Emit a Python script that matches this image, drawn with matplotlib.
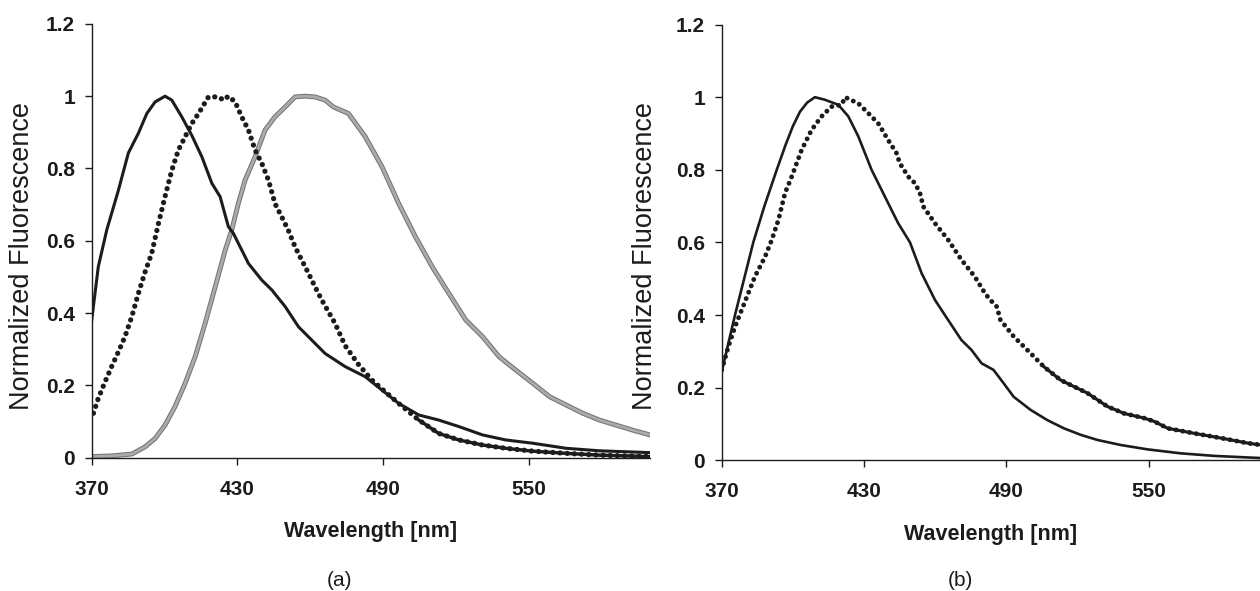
import matplotlib
matplotlib.use("Agg")
import matplotlib.pyplot as plt

plt.rcParams['font.family'] = ['Liberation Sans', 'DejaVu Sans']

# ---- data ----
# panel (a)
a_solid_x = [370, 372.7, 376.2, 381, 385.1, 389.2, 392.7, 396.1, 400.2, 403, 407.1, 411.2,
             415.4, 419.5, 422.9, 426.3, 428.4, 434.6, 440.1, 444.2, 449.7, 455.2, 460.7,
             466.2, 470.3, 474.4, 482.7, 489.6, 496.5, 504.8, 513, 521.3, 531, 540.6,
             551.7, 565.4, 579.2, 600]
a_solid_y = [0.381, 0.528, 0.63, 0.74, 0.843, 0.897, 0.952, 0.984, 1.0, 0.989, 0.943, 0.892,
             0.832, 0.759, 0.722, 0.639, 0.62, 0.537, 0.491, 0.464, 0.418, 0.362, 0.325,
             0.288, 0.27, 0.252, 0.224, 0.187, 0.150, 0.118, 0.104, 0.086, 0.063, 0.049,
             0.040, 0.026, 0.019, 0.014]

a_dot_x = [370.7, 372.7, 375.5, 378.2, 381, 383.7, 386.5, 389.2, 392, 394.7, 397.5, 400.2,
           403, 405.7, 408.5, 411.2, 414, 418.1, 422.2, 424.3, 426.3, 429.1, 431.8, 434.6,
           437.3, 440.1, 442.8, 445.5, 448.3, 451, 453.8, 456.5, 459.3, 462, 464.8, 470.3,
           474.4, 479.9, 485.4, 489.6, 496.5, 504.8, 513, 521.3, 531, 540.6, 551.7, 565.4,
           579.2, 600]
a_dot_y = [0.123, 0.164, 0.21, 0.252, 0.293, 0.335, 0.39, 0.454, 0.514, 0.565, 0.648, 0.722,
           0.795, 0.851, 0.888, 0.924, 0.952, 0.998, 0.998, 0.989, 1.0, 0.984, 0.943, 0.906,
           0.851, 0.814, 0.768, 0.703, 0.666, 0.629, 0.583, 0.547, 0.51, 0.473, 0.436, 0.371,
           0.31, 0.258, 0.215, 0.19, 0.150, 0.104, 0.067, 0.049, 0.035, 0.026, 0.018, 0.012,
           0.007, 0.003]

a_gray_x = [370, 378.2, 386.5, 392, 396.1, 400.2, 404.3, 408.5, 412.6, 416.7, 420.9, 425,
            427.7, 430.4, 433.2, 437.3, 441.4, 445.5, 449.7, 453.8, 457.9, 462, 466.2, 469.6,
            475.8, 482.7, 489.6, 496.5, 503.4, 510.3, 517.2, 524.1, 531, 537.9, 544.8, 551.7,
            558.6, 565.4, 572.3, 579.2, 586.1, 593, 600]
a_gray_y = [0.003, 0.005, 0.01, 0.03, 0.053, 0.09, 0.141, 0.206, 0.279, 0.371, 0.473, 0.574,
            0.63, 0.703, 0.768, 0.832, 0.906, 0.943, 0.97, 0.998, 1.0, 0.998, 0.989, 0.97,
            0.952, 0.888, 0.805, 0.703, 0.611, 0.528, 0.454, 0.381, 0.335, 0.279, 0.242, 0.206,
            0.169, 0.146, 0.123, 0.104, 0.09, 0.076, 0.063]

# panel (b)
b_solid_x = [370, 375.6, 383.3, 388, 393.2, 397, 400, 403, 406, 409.3, 413.5, 419.2, 423.4,
             427.6, 433.2, 440.2, 444.4, 449.4, 454.3, 459.9, 464.1, 471.1, 475.3, 479.6,
             484.6, 488.9, 493.1, 500.2, 507.2, 514.3, 521.4, 528.4, 538.3, 549.6, 563.7,
             577.9, 597.6]
b_solid_y = [0.244, 0.4, 0.6, 0.7, 0.8, 0.87, 0.92, 0.96, 0.985, 1.0, 0.993, 0.979, 0.947,
             0.892, 0.8, 0.708, 0.653, 0.6, 0.515, 0.442, 0.4, 0.331, 0.304, 0.267,
             0.249, 0.212, 0.175, 0.139, 0.111, 0.088, 0.07, 0.056, 0.042, 0.03, 0.019,
             0.012, 0.006]

b_dot_x = [370, 372.8, 375.6, 378.4, 381.2, 384, 388.3, 391.1, 393.9, 396.7, 399.5, 403.7,
           407.9, 412.1, 416.3, 420.6, 422, 427.6, 431.8, 436, 440.2, 443.7, 445.1, 448.7,
           451.5, 453.6, 455, 459.9, 465.5, 471.1, 476.7, 481, 483.2, 486, 487.5, 493.1,
           500.2, 505.8, 512.9, 515.7, 524.2, 532.7, 539.7, 548.2, 552.4, 558.1, 569.4,
           580.7, 592, 597.6]
b_dot_y = [0.249, 0.313, 0.368, 0.414, 0.46, 0.506, 0.561, 0.607, 0.662, 0.736, 0.781, 0.855,
           0.91, 0.947, 0.974, 0.979, 1.0, 0.983, 0.956, 0.928, 0.882, 0.846, 0.818, 0.781,
           0.763, 0.736, 0.699, 0.653, 0.607, 0.552, 0.506, 0.46, 0.442, 0.423, 0.387, 0.341,
           0.295, 0.258, 0.221, 0.212, 0.185, 0.148, 0.129, 0.116, 0.107, 0.088, 0.074,
           0.061, 0.047, 0.042]

x_ticks = [370, 430, 490, 550]
y_ticks = [0, 0.2, 0.4, 0.6, 0.8, 1.0, 1.2]
y_tick_labels = ['0', '0.2', '0.4', '0.6', '0.8', '1', '1.2']

DARK = '#1c1c1c'

fig = plt.figure(figsize=(12.6, 5.91), dpi=100)
ax_a = fig.add_axes([0.0728, 0.2256, 0.5158 - 0.0728, 0.9596 - 0.2256])
ax_b = fig.add_axes([0.5728, 0.2212, 1.0 - 0.5728, 0.9584 - 0.2212])


def dotted(ax, x, y, tail_from, lw, gap):
    ax.plot(x, y, color=DARK, lw=lw, linestyle=(0, (0.01, gap)),
            dash_capstyle='round', solid_capstyle='round')
    # dots overlap into a thick line where the curve flattens
    tx = [v for v in x if v >= tail_from]
    ty = [w for v, w in zip(x, y) if v >= tail_from]
    ax.plot(tx, ty, color=DARK, lw=lw * 0.65)


# panel (a)
ax_a.plot(a_gray_x, a_gray_y, color='#747474', lw=3.5, solid_joinstyle='round')
ax_a.plot(a_gray_x, a_gray_y, color='#ababab', lw=2.0, solid_joinstyle='round')
dotted(ax_a, a_dot_x, a_dot_y, 498, 3.8, 1.35)
ax_a.plot(a_solid_x, a_solid_y, color=DARK, lw=2.2, solid_joinstyle='round')
ax_a.set_xlim(370, 600)

# panel (b)
dotted(ax_b, b_dot_x, b_dot_y, 505, 3.5, 1.4)
ax_b.plot(b_solid_x, b_solid_y, color=DARK, lw=1.9, solid_joinstyle='round')
ax_b.set_xlim(370, 597)

for ax in (ax_a, ax_b):
    ax.set_ylim(0, 1.2)
    ax.set_xticks(x_ticks)
    ax.set_yticks(y_ticks)
    ax.set_yticklabels(y_tick_labels)
    for s in ('top', 'right'):
        ax.spines[s].set_visible(False)
    for s in ('left', 'bottom'):
        ax.spines[s].set_linewidth(1.0)
        ax.spines[s].set_color(DARK)
    ax.tick_params(axis='both', direction='out', length=5, width=1.0, color=DARK)
    ax.tick_params(axis='x', pad=11)
    ax.tick_params(axis='y', pad=7)
    for lab in ax.get_xticklabels() + ax.get_yticklabels():
        lab.set_fontsize(15)
        lab.set_fontweight('bold')
        lab.set_color(DARK)
    ax.set_xlabel('Wavelength [nm]', fontsize=15.5, fontweight='bold', color=DARK, labelpad=16)

fig.text(22 / 1260, 1 - 256 / 591, 'Normalized Fluorescence', rotation=90,
         ha='center', va='center', fontsize=19.5, color=DARK)
fig.text(645 / 1260, 1 - 256 / 591, 'Normalized Fluorescence', rotation=90,
         ha='center', va='center', fontsize=19.5, color=DARK)
fig.text(340 / 1260, 1 - 580 / 591, '(a)', ha='center', va='center', fontsize=15, color=DARK)
fig.text(960 / 1260, 1 - 580 / 591, '(b)', ha='center', va='center', fontsize=15, color=DARK)

fig.savefig('out.png', dpi=100)
